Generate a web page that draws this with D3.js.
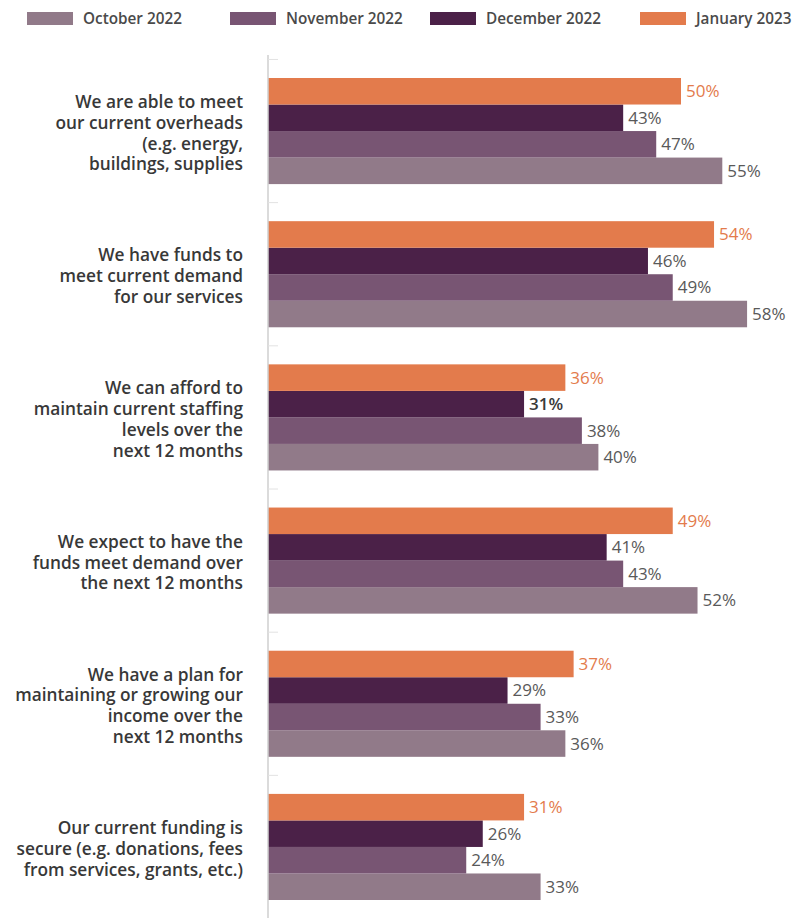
<!DOCTYPE html>
<html>
<head>
<meta charset="utf-8">
<script src="https://cdn.jsdelivr.net/npm/d3@7"></script>
<style>
  body { margin: 0; background: #fff; }
  svg { font-family: "Open Sans", sans-serif; }
</style>
</head>
<body>
<div id="chart"></div>
<script>
// data
const categories = [
  ["We are able to meet", "our current overheads", "(e.g. energy,", "buildings, supplies"],
  ["We have funds to", "meet current demand", "for our services"],
  ["We can afford to", "maintain current staffing", "levels over the", "next 12 months"],
  ["We expect to have the", "funds meet demand over", "the next 12 months"],
  ["We have a plan for", "maintaining or growing our", "income over the", "next 12 months"],
  ["Our current funding is", "secure (e.g. donations, fees", "from services, grants, etc.)"]
];
const series = ["October 2022", "November 2022", "December 2022", "January 2023"];
const oct2022 = [55, 58, 40, 52, 36, 33];
const nov2022 = [47, 49, 38, 43, 33, 24];
const dec2022 = [43, 46, 31, 41, 29, 26];
const jan2023 = [50, 54, 36, 49, 37, 31];
const seriesValues = [oct2022, nov2022, dec2022, jan2023];
const colors = ["#917a89", "#785573", "#4b2148", "#e37b4c"];
const barOrder = ["January 2023", "December 2022", "November 2022", "October 2022"];

const width = 795, height = 918;
const axisX = 268;

const svg = d3.select("#chart").append("svg")
  .attr("width", width)
  .attr("height", height);

const keys = categories.map((c, i) => i);

var x = d3.scaleLinear().domain([0, 60]).range([axisX, axisX + 60 * 8.26]);
var y = d3.scaleBand().domain(keys).range([78, 900]).paddingInner(0.259).paddingOuter(0);
var yInner = d3.scaleBand().domain(barOrder).range([0, y.bandwidth()]);
var color = d3.scaleOrdinal().domain(series).range(colors);

// legend
const legendX = [27, 230, 430, 640];
const legend = svg.selectAll(".legend")
  .data(series)
  .enter()
  .append("g")
  .attr("class", "legend")
  .attr("transform", (d, i) => `translate(${legendX[i]}, 12)`);
legend.append("rect")
  .attr("width", 46)
  .attr("height", 13)
  .attr("fill", d => color(d));
legend.append("text")
  .attr("x", 56)
  .attr("y", 12)
  .style("font-size", "15.3px")
  .style("font-weight", 600)
  .attr("fill", "#4a4a4a")
  .text(d => d);

// bars
const rows = [];
keys.forEach(k => {
  series.forEach((s, si) => {
    rows.push({cat: k, series: s, value: seriesValues[si][k]});
  });
});

svg.selectAll(".bar")
  .data(rows)
  .enter()
  .append("rect")
  .attr("class", "bar")
  .attr("x", x(0))
  .attr("y", d => y(d.cat) + yInner(d.series))
  .attr("width", d => x(d.value) - x(0))
  .attr("height", yInner.bandwidth())
  .attr("fill", d => color(d.series));

// the one label the original prints darker
const isEmph = d => d.cat === 2 && d.series === "December 2022";

svg.selectAll(".val")
  .data(rows)
  .enter()
  .append("text")
  .attr("class", "val")
  .attr("x", d => x(d.value) + 5)
  .attr("y", d => y(d.cat) + yInner(d.series) + yInner.bandwidth() / 2)
  .attr("dy", "0.35em")
  .style("font-size", "17px")
  .style("font-weight", d => isEmph(d) ? 600 : 400)
  .attr("fill", d => d.series === "January 2023" ? "#e37b4c" : (isEmph(d) ? "#3a3a3a" : "#595959"))
  .text(d => d.value + "%");

// axis line and faint ticks
svg.append("line")
  .attr("x1", axisX).attr("x2", axisX)
  .attr("y1", 55).attr("y2", height)
  .attr("stroke", "#cfcfcf")
  .attr("stroke-width", 1.5);

const tickYs = keys.map(k => y(k) - (y.step() - y.bandwidth()) / 2);
svg.selectAll(".tick")
  .data(tickYs)
  .enter()
  .append("line")
  .attr("x1", axisX).attr("x2", axisX + 10)
  .attr("y1", d => d).attr("y2", d => d)
  .attr("stroke", "#e2e2e2");

// category labels
const lineH = 20.8;
const labels = svg.selectAll(".cat")
  .data(categories)
  .enter()
  .append("text")
  .attr("class", "cat")
  .attr("text-anchor", "end")
  .style("font-size", "17.3px")
  .style("font-weight", 600)
  .attr("fill", "#383838");
labels.each(function(lines, i) {
  const cy = y(i) + y.bandwidth() / 2 + 2;
  const top = cy - (lines.length - 1) * lineH / 2;
  d3.select(this).selectAll("tspan")
    .data(lines)
    .enter()
    .append("tspan")
    .attr("x", 243)
    .attr("y", (d, j) => top + j * lineH)
    .attr("dy", "0.35em")
    .text(d => d);
});
</script>
</body>
</html>
